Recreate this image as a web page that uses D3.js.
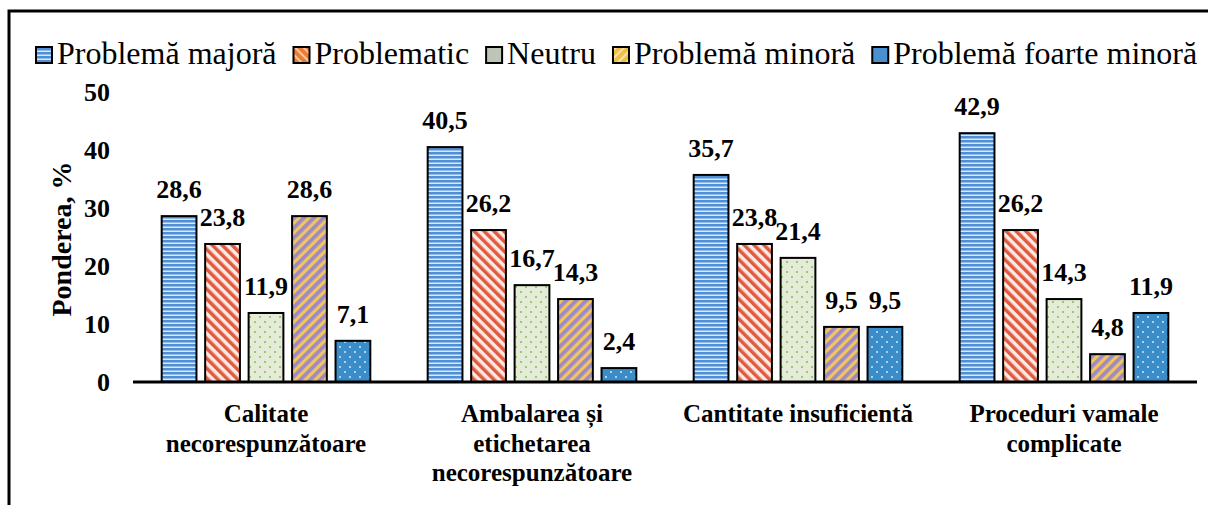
<!DOCTYPE html>
<html>
<head>
  <meta charset="utf-8">
  <script src="https://d3js.org/d3.v7.min.js"></script>
</head>
<body style="margin:0">
  <script>
    var categories = [
        ["Calitate", "necorespunzătoare"],
        ["Ambalarea și", "etichetarea", "necorespunzătoare"],
        ["Cantitate insuficientă"],
        ["Proceduri vamale", "complicate"]
    ];
    var series = ["Problemă majoră", "Problematic", "Neutru", "Problemă minoră", "Problemă foarte minoră"];
    var majora       = [28.6, 40.5, 35.7, 42.9];
    var problematic  = [23.8, 26.2, 23.8, 26.2];
    var neutru       = [11.9, 16.7, 21.4, 14.3];
    var minora       = [28.6, 14.3, 9.5, 4.8];
    var foarteMinora = [7.1, 2.4, 9.5, 11.9];
    var yTicks = [0, 10, 20, 30, 40, 50];

    var values = [majora, problematic, neutru, minora, foarteMinora];

    var width = 1208,
        height = 505;
    var fontCss = "font-family: 'Liberation Serif', Tinos, 'Times New Roman'";

    var svg = d3.select("body")
      .append("svg")
      .attr("width", width)
      .attr("height", height);

    // patterns for the bars
    var defs = svg.append("defs");

    var p0 = defs.append("pattern").attr("id", "pat0")
      .attr("patternUnits", "userSpaceOnUse").attr("width", 4).attr("height", 4);
    p0.append("rect").attr("width", 4).attr("height", 4).attr("fill", "#4f8fd6");
    p0.append("rect").attr("y", 2.5).attr("width", 4).attr("height", 1.5).attr("fill", "#dce8f7");

    var p1 = defs.append("pattern").attr("id", "pat1")
      .attr("patternUnits", "userSpaceOnUse").attr("width", 7).attr("height", 7)
      .attr("patternTransform", "rotate(-45)");
    p1.append("rect").attr("width", 7).attr("height", 7).attr("fill", "#fbe9e4");
    p1.append("rect").attr("width", 3.5).attr("height", 7).attr("fill", "#df5a3f");

    var p2 = defs.append("pattern").attr("id", "pat2")
      .attr("patternUnits", "userSpaceOnUse").attr("width", 10).attr("height", 10);
    p2.append("rect").attr("width", 10).attr("height", 10).attr("fill", "#e4ecd8");
    p2.append("circle").attr("cx", 2).attr("cy", 2).attr("r", 1).attr("fill", "#86bb52");
    p2.append("circle").attr("cx", 7).attr("cy", 7).attr("r", 1).attr("fill", "#86bb52");

    var p3 = defs.append("pattern").attr("id", "pat3")
      .attr("patternUnits", "userSpaceOnUse").attr("width", 7).attr("height", 7)
      .attr("patternTransform", "rotate(45)");
    p3.append("rect").attr("width", 7).attr("height", 7).attr("fill", "#f1c65e");
    p3.append("rect").attr("width", 3.8).attr("height", 7).attr("fill", "#a08ac4");

    var p4 = defs.append("pattern").attr("id", "pat4")
      .attr("patternUnits", "userSpaceOnUse").attr("width", 10).attr("height", 10);
    p4.append("rect").attr("width", 10).attr("height", 10).attr("fill", "#3b8dca");
    p4.append("circle").attr("cx", 2).attr("cy", 2).attr("r", 1).attr("fill", "#d6eaf8");
    p4.append("circle").attr("cx", 7).attr("cy", 7).attr("r", 1).attr("fill", "#d6eaf8");

    // legend swatches use the plain Excel shades
    var lp1 = defs.append("pattern").attr("id", "lpat1")
      .attr("patternUnits", "userSpaceOnUse").attr("width", 6).attr("height", 6)
      .attr("patternTransform", "rotate(-45)");
    lp1.append("rect").attr("width", 6).attr("height", 6).attr("fill", "#ed7d31");
    lp1.append("rect").attr("width", 2).attr("height", 6).attr("fill", "#f8c8a8");

    var lp3 = defs.append("pattern").attr("id", "lpat3")
      .attr("patternUnits", "userSpaceOnUse").attr("width", 6).attr("height", 6)
      .attr("patternTransform", "rotate(45)");
    lp3.append("rect").attr("width", 6).attr("height", 6).attr("fill", "#f0c040");
    lp3.append("rect").attr("width", 2).attr("height", 6).attr("fill", "#f8e3a8");

    var legendFill = ["url(#pat0)", "url(#lpat1)", "#bcc5b6", "url(#lpat3)", "#4a8fd0"];

    // outer frame (cut at the right and bottom)
    svg.append("rect")
      .attr("x", 9).attr("y", 11)
      .attr("width", 1300).attr("height", 600)
      .attr("fill", "none").attr("stroke", "#000").attr("stroke-width", 3);

    var x0 = d3.scaleBand()
      .domain(d3.range(categories.length))
      .range([133, 1197])
      .padding(0);

    var x1 = d3.scaleBand()
      .domain(d3.range(series.length))
      .range([0, x0.bandwidth()])
      .paddingInner(0.2)
      .paddingOuter(0.66);

    var y = d3.scaleLinear()
      .domain([0, 50])
      .range([382, 92]);

    // y axis, labels only
    svg.append("g")
      .attr("transform", "translate(133,0)")
      .call(d3.axisLeft(y).tickValues(yTicks).tickSize(0).tickPadding(23))
      .call(function(g) {
        g.select(".domain").remove();
        g.selectAll("text")
          .attr("style", fontCss)
          .attr("font-size", 26)
          .attr("font-weight", "bold")
          .attr("fill", "#000");
      });

    svg.append("text")
      .attr("transform", "translate(71,239) rotate(-90)")
      .attr("text-anchor", "middle")
      .attr("font-size", 28)
      .attr("font-weight", "bold")
      .attr("style", fontCss)
      .text("Ponderea, %");

    // bars
    var groups = svg.append("g").selectAll("g")
      .data(categories)
      .enter()
      .append("g")
      .attr("transform", function(d, i) { return "translate(" + x0(i) + ",0)"; });

    groups.selectAll("rect")
      .data(function(d, i) { return values.map(function(v, s) { return {s: s, v: v[i]}; }); })
      .enter()
      .append("rect")
      .attr("x", function(d) { return x1(d.s); })
      .attr("y", function(d) { return y(d.v); })
      .attr("width", x1.bandwidth())
      .attr("height", function(d) { return y(0) - y(d.v); })
      .attr("fill", function(d) { return "url(#pat" + d.s + ")"; })
      .attr("stroke", "#000")
      .attr("stroke-width", 2);

    groups.selectAll("text.val")
      .data(function(d, i) { return values.map(function(v, s) { return {s: s, v: v[i]}; }); })
      .enter()
      .append("text")
      .attr("class", "val")
      .attr("x", function(d) { return x1(d.s) + x1.bandwidth() / 2; })
      .attr("y", function(d) { return y(d.v) - 18; })
      .attr("text-anchor", "middle")
      .attr("font-size", 26)
      .attr("font-weight", "bold")
      .attr("style", fontCss)
      .text(function(d) { return d.v.toFixed(1).replace(".", ","); });

    // baseline
    svg.append("line")
      .attr("x1", 133).attr("x2", 1197)
      .attr("y1", y(0)).attr("y2", y(0))
      .attr("stroke", "#000").attr("stroke-width", 3);

    // category labels
    groups.append("text")
      .attr("text-anchor", "middle")
      .attr("font-size", 25)
      .attr("font-weight", "bold")
      .attr("style", fontCss)
      .selectAll("tspan")
      .data(function(d) { return d; })
      .enter()
      .append("tspan")
      .attr("x", x0.bandwidth() / 2)
      .attr("y", function(d, j) { return 422 + j * 29.5; })
      .text(function(d) { return d; });

    // legend
    var legend = svg.append("g");
    var lx = 36;
    series.forEach(function(name, s) {
      legend.append("rect")
        .attr("x", lx).attr("y", 47)
        .attr("width", 16).attr("height", 16)
        .attr("fill", legendFill[s])
        .attr("stroke", "#000").attr("stroke-width", 2);
      var t = legend.append("text")
        .attr("x", lx + 21).attr("y", 64)
        .attr("font-size", 32)
        .attr("style", fontCss)
        .text(name);
      lx += 21 + t.node().getComputedTextLength() + 17;
    });
  </script>
</body>
</html>
